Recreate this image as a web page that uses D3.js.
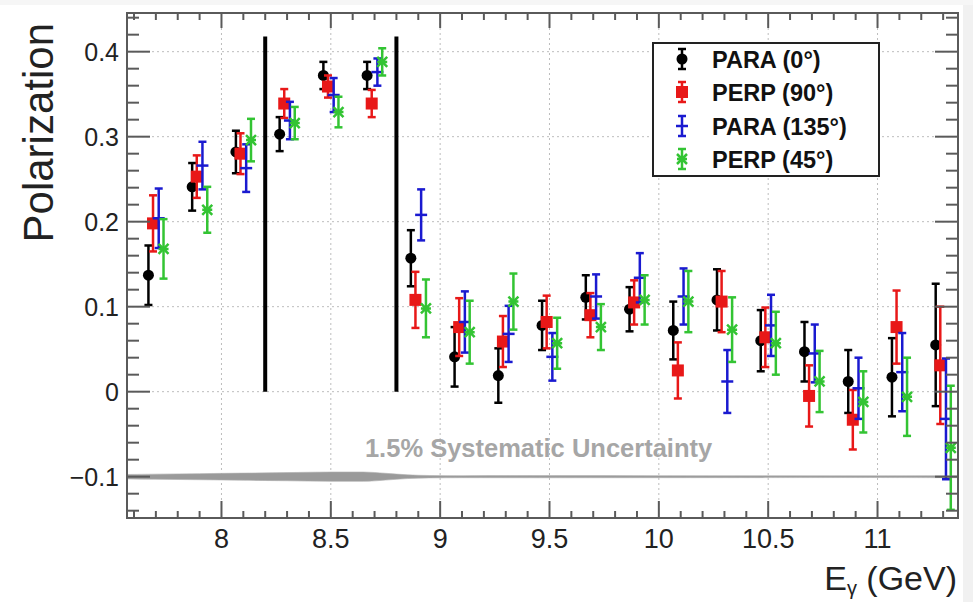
<!DOCTYPE html>
<html>
<head>
<meta charset="utf-8">
<script src="https://cdn.jsdelivr.net/npm/d3@7"></script>
<style>
  html, body { margin: 0; padding: 0; background: #fff; }
  svg { display: block; }
  text { font-family: "Liberation Sans", Arial, Helvetica, sans-serif; }
</style>
</head>
<body>
<svg id="chart" width="973" height="602"></svg>
<script>
// ---------------- data ----------------
const energy = [7.7, 7.9, 8.1, 8.3, 8.5, 8.7, 8.9, 9.1, 9.3, 9.5, 9.7, 9.9, 10.1, 10.3, 10.5, 10.7, 10.9, 11.1, 11.3];

const para0     = [0.137, 0.241, 0.282, 0.303, 0.372, 0.372, 0.157, 0.041, 0.019, 0.078, 0.111, 0.097, 0.072, 0.108, 0.060, 0.047, 0.012, 0.017, 0.055];
const para0Err  = [0.035, 0.028, 0.025, 0.020, 0.016, 0.016, 0.033, 0.035, 0.032, 0.029, 0.026, 0.026, 0.034, 0.036, 0.036, 0.035, 0.037, 0.046, 0.072];

const perp90    = [0.198, 0.253, 0.280, 0.339, 0.359, 0.339, 0.108, 0.076, 0.059, 0.082, 0.090, 0.105, 0.025, 0.106, 0.064, -0.005, -0.033, 0.076, 0.031];
const perp90Err = [0.033, 0.025, 0.024, 0.017, 0.013, 0.016, 0.033, 0.034, 0.030, 0.031, 0.026, 0.026, 0.033, 0.036, 0.035, 0.036, 0.035, 0.043, 0.069];

const para135    = [0.204, 0.266, 0.263, 0.319, 0.349, 0.376, 0.208, 0.082, 0.068, 0.041, 0.112, 0.134, 0.112, 0.012, 0.078, 0.045, 0.004, 0.023, -0.032];
const para135Err = [0.035, 0.028, 0.028, 0.022, 0.020, 0.016, 0.030, 0.036, 0.033, 0.028, 0.026, 0.029, 0.033, 0.037, 0.036, 0.034, 0.036, 0.046, 0.071];

const perp45    = [0.168, 0.214, 0.296, 0.316, 0.329, 0.388, 0.098, 0.070, 0.106, 0.057, 0.076, 0.108, 0.106, 0.073, 0.057, 0.012, -0.012, -0.006, -0.066];
const perp45Err = [0.035, 0.027, 0.025, 0.019, 0.018, 0.016, 0.034, 0.037, 0.033, 0.030, 0.027, 0.029, 0.036, 0.038, 0.037, 0.036, 0.036, 0.046, 0.073];

const seriesNames = ["PARA (0\u00B0)", "PERP (90\u00B0)", "PARA (135\u00B0)", "PERP (45\u00B0)"];

// systematic uncertainty band (drawn at P = -0.1), half-width in polarization units
const sysE    = [7.57, 7.7, 7.9, 8.1, 8.3, 8.5, 8.65, 8.75, 8.85, 8.95, 9.1, 9.5, 10.0, 10.5, 11.0, 11.37];
const sysHalf = [0.0026, 0.0030, 0.0036, 0.0042, 0.0048, 0.0055, 0.0055, 0.0040, 0.0022, 0.0014, 0.0012, 0.0013, 0.0012, 0.0011, 0.0010, 0.0012];
const sysBaseline = -0.1;
const sysLabel = "1.5% Systematic Uncertainty";

// vertical cut lines (GeV) and their top value
const cutLines = [8.2, 8.8];
const cutTop = 0.418;

const xMajorTicks = [8, 8.5, 9, 9.5, 10, 10.5, 11];
const xTickLabels = ["8", "8.5", "9", "9.5", "10", "10.5", "11"];
const yMajorTicks = [-0.1, 0, 0.1, 0.2, 0.3, 0.4];
const yTickLabels = ["\u22120.1", "0", "0.1", "0.2", "0.3", "0.4"];

// ---------------- layout ----------------
const svg = d3.select("#chart");
const L = 127, R = 958, T = 13, B = 518;
const x = d3.scaleLinear().domain([7.568, 11.368]).range([L, R]);
const y = d3.scaleLinear().domain([-0.1486, 0.4455]).range([B, T]);

const colors = ["#000000", "#e81818", "#1a1ad0", "#33c433"];
const offsets = [-0.034, -0.013, 0.013, 0.035];
const seriesVals = [para0, perp90, para135, perp45];
const seriesErrs = [para0Err, perp90Err, para135Err, perp45Err];

// light screenshot edges
svg.append("rect").attr("x", 963).attr("y", 0).attr("width", 10).attr("height", 602).attr("fill", "#f1f1f1");
svg.append("rect").attr("x", 0).attr("y", 0).attr("width", 973).attr("height", 5).attr("fill", "#f6f6f6");

// plot background
svg.append("rect").attr("x", L).attr("y", T).attr("width", R - L).attr("height", B - T).attr("fill", "#fff");

svg.append("defs").append("clipPath").attr("id", "clip")
  .append("rect").attr("x", L).attr("y", T).attr("width", R - L).attr("height", B - T);

// grid
const grid = svg.append("g").attr("stroke", "#bdbdbd").attr("stroke-width", 1).attr("stroke-dasharray", "2,3");
grid.selectAll("line.gx").data(xMajorTicks).join("line")
  .attr("x1", d => x(d)).attr("x2", d => x(d)).attr("y1", T).attr("y2", B);
grid.selectAll("line.gy").data(yMajorTicks).join("line")
  .attr("y1", d => y(d)).attr("y2", d => y(d)).attr("x1", L).attr("x2", R);

// systematic band
const bandData = sysE.map((e, i) => ({ e, h: sysHalf[i] }));
const plotG = svg.append("g").attr("clip-path", "url(#clip)");
plotG.append("path")
  .datum(bandData)
  .attr("fill", "#9a9a9a")
  .attr("stroke", "#b0b0b0")
  .attr("stroke-width", 0.6)
  .attr("d", d3.area().curve(d3.curveMonotoneX)
    .x(d => x(d.e)).y0(d => y(sysBaseline - d.h)).y1(d => y(sysBaseline + d.h)));

svg.append("text")
  .attr("x", x(9.45)).attr("y", 457)
  .attr("text-anchor", "middle")
  .attr("font-size", 25.5).attr("font-weight", "bold")
  .attr("fill", "#a6a6a6")
  .text(sysLabel);

// cut lines
svg.append("g").selectAll("line").data(cutLines).join("line")
  .attr("x1", d => x(d)).attr("x2", d => x(d))
  .attr("y1", y(0)).attr("y2", y(cutTop))
  .attr("stroke", "#000").attr("stroke-width", 4);

// frame ticks
const axisColor = "#5a5a5a";
const tg = svg.append("g").attr("stroke", axisColor).attr("stroke-width", 2);
const xMinor = d3.range(76, 114).map(v => v / 10).filter(v => v > 7.568 && v < 11.368);
const yMinor = d3.range(-7, 23).map(v => v / 50).filter(v => v > -0.1486 && v < 0.4455);
const isMajorX = v => xMajorTicks.some(t => Math.abs(t - v) < 1e-6);
const isMajorY = v => yMajorTicks.some(t => Math.abs(t - v) < 1e-6);

tg.selectAll("line.xb").data(xMinor).join("line")
  .attr("x1", d => x(d)).attr("x2", d => x(d))
  .attr("y1", B).attr("y2", d => B - (isMajorX(d) ? 17 : 7));
tg.selectAll("line.xt").data(xMinor).join("line")
  .attr("x1", d => x(d)).attr("x2", d => x(d))
  .attr("y1", T).attr("y2", d => T + (isMajorX(d) ? 15 : 7));
tg.selectAll("line.yl").data(yMinor).join("line")
  .attr("y1", d => y(d)).attr("y2", d => y(d))
  .attr("x1", L).attr("x2", d => L + (isMajorY(d) ? 23 : 12));
tg.selectAll("line.yr").data(yMinor).join("line")
  .attr("y1", d => y(d)).attr("y2", d => y(d))
  .attr("x1", R).attr("x2", d => R - (isMajorY(d) ? 23 : 12));

// frame
svg.append("rect").attr("x", L).attr("y", T).attr("width", R - L).attr("height", B - T)
  .attr("fill", "none").attr("stroke", axisColor).attr("stroke-width", 2);

// tick labels
svg.append("g").selectAll("text").data(xMajorTicks).join("text")
  .attr("x", d => x(d)).attr("y", 548)
  .attr("text-anchor", "middle").attr("font-size", 27).attr("fill", "#222")
  .text((d, i) => xTickLabels[i]);
svg.append("g").selectAll("text").data(yMajorTicks).join("text")
  .attr("x", 119).attr("y", d => y(d) + 9)
  .attr("text-anchor", "end").attr("font-size", 25).attr("fill", "#222")
  .text((d, i) => yTickLabels[i]);

// axis titles
svg.append("text")
  .attr("transform", "translate(53,23) rotate(-90)")
  .attr("text-anchor", "end").attr("font-size", 42).attr("fill", "#222")
  .text("Polarization");
const xt = svg.append("text")
  .attr("x", 957).attr("y", 590)
  .attr("text-anchor", "end").attr("font-size", 34).attr("fill", "#222");
xt.append("tspan").text("E");
xt.append("tspan").attr("font-size", 20).attr("dy", 5).text("\u03B3");
xt.append("tspan").attr("dy", -5).text(" (GeV)");

// markers
function drawMarker(g, k, cx, cy) {
  const c = colors[k];
  if (k === 0) {
    g.append("circle").attr("cx", cx).attr("cy", cy).attr("r", 5.5).attr("fill", c);
  } else if (k === 1) {
    g.append("rect").attr("x", cx - 6).attr("y", cy - 6).attr("width", 12).attr("height", 12).attr("fill", c);
  } else if (k === 2) {
    g.append("line").attr("x1", cx - 6).attr("x2", cx + 6).attr("y1", cy).attr("y2", cy)
      .attr("stroke", c).attr("stroke-width", 2.5);
  } else {
    g.append("path")
      .attr("d", `M${cx - 5},${cy - 5}L${cx + 5},${cy + 5}M${cx - 5},${cy + 5}L${cx + 5},${cy - 5}M${cx - 5},${cy}L${cx + 5},${cy}`)
      .attr("stroke", c).attr("stroke-width", 2.5).attr("fill", "none");
  }
}

function drawErrBar(g, k, cx, yTop, yBot) {
  const c = colors[k];
  g.append("line").attr("x1", cx).attr("x2", cx).attr("y1", yTop).attr("y2", yBot)
    .attr("stroke", c).attr("stroke-width", 2.5);
  g.append("line").attr("x1", cx - 4).attr("x2", cx + 4).attr("y1", yTop).attr("y2", yTop)
    .attr("stroke", c).attr("stroke-width", 2.5);
  g.append("line").attr("x1", cx - 4).attr("x2", cx + 4).attr("y1", yBot).attr("y2", yBot)
    .attr("stroke", c).attr("stroke-width", 2.5);
}

seriesVals.forEach((vals, k) => {
  const g = plotG.append("g").attr("class", "series-" + k);
  vals.forEach((v, i) => {
    const cx = x(energy[i] + offsets[k]);
    const err = seriesErrs[k][i];
    drawErrBar(g, k, cx, y(v + err), y(v - err));
    drawMarker(g, k, cx, y(v));
  });
});

// legend
const lg = svg.append("g");
lg.append("rect").attr("x", 653).attr("y", 43).attr("width", 226).attr("height", 133)
  .attr("fill", "#fff").attr("stroke", "#222").attr("stroke-width", 2);
const rowY = [59, 92, 126, 159];
seriesNames.forEach((name, k) => {
  const cy = rowY[k];
  drawErrBar(lg, k, 682, cy - 10, cy + 10);
  drawMarker(lg, k, 682, cy);
  lg.append("text").attr("x", 712).attr("y", cy + 8.5)
    .attr("font-size", 23.5).attr("font-weight", "bold").attr("fill", "#111")
    .text(name);
});
</script>
</body>
</html>
